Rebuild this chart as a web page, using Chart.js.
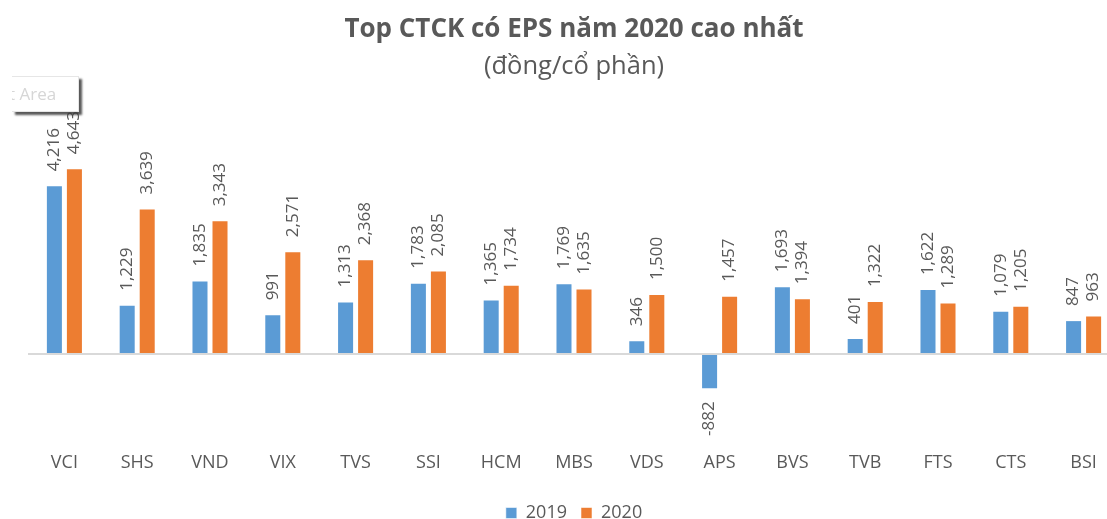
<!DOCTYPE html>
<html>
<head>
<meta charset="utf-8">
<script src="https://cdn.jsdelivr.net/npm/chart.js@4"></script>
<style>
  html, body { margin: 0; padding: 0; background: #fff; overflow: hidden; width: 1107px; height: 519px; }
  #wrap { position: absolute; left: 0; top: 0; width: 1148px; height: 519px; }
  #tip { position: absolute; left: 12px; top: 76px; width: 66px; height: 34px; background: #fff;
         border: 1px solid #e6e6e6; border-left: none; box-shadow: 3px 3px 2px rgba(60,60,60,0.85);
         font-family: "Open Sans", sans-serif; font-size: 17px; color: #d6d6d6; line-height: 34px;
         white-space: nowrap; overflow: hidden; text-indent: -3px; }
</style>
</head>
<body>
<div id="wrap"><canvas id="c"></canvas></div>
<div id="tip">t Area</div>
<script>
const categories = ["VCI","SHS","VND","VIX","TVS","SSI","HCM","MBS","VDS","APS","BVS","TVB","FTS","CTS","BSI"];
const eps2019 = [4216, 1229, 1835, 991, 1313, 1783, 1365, 1769, 346, -882, 1693, 401, 1622, 1079, 847];
const eps2020 = [4643, 3639, 3343, 2571, 2368, 2085, 1734, 1635, 1500, 1457, 1394, 1322, 1289, 1205, 963];
const seriesNames = ["2019", "2020"];

const FONT = '"Open Sans", sans-serif';
const GREY = '#595959';

const valueLabels = {
  id: 'valueLabels',
  afterDatasetsDraw(chart) {
    const ctx = chart.ctx;
    ctx.save();
    ctx.font = '17px ' + FONT;
    ctx.fillStyle = GREY;
    ctx.textBaseline = 'middle';
    chart.data.datasets.forEach((ds, di) => {
      const meta = chart.getDatasetMeta(di);
      meta.data.forEach((bar, i) => {
        const v = ds.data[i];
        const txt = v.toLocaleString('en-US');
        ctx.save();
        ctx.translate(bar.x, bar.y);
        ctx.rotate(-Math.PI / 2);
        if (v >= 0) { ctx.textAlign = 'left'; ctx.fillText(txt, 14, 0); }
        else { ctx.textAlign = 'right'; ctx.fillText(txt, -12, 0); }
        ctx.restore();
      });
    });
    ctx.restore();
  }
};

new Chart(document.getElementById('c'), {
  type: 'bar',
  data: {
    labels: categories,
    datasets: [
      { label: seriesNames[0], data: eps2019, backgroundColor: '#5B9BD5', borderColor: 'rgba(255,255,255,0.55)', borderWidth: 1,
        categoryPercentage: 0.55, barPercentage: 0.85 },
      { label: seriesNames[1], data: eps2020, backgroundColor: '#ED7D31', borderColor: 'rgba(255,255,255,0.55)', borderWidth: 1,
        categoryPercentage: 0.55, barPercentage: 0.85 }
    ]
  },
  options: {
    responsive: true,
    maintainAspectRatio: false,
    animation: false,
    layout: { padding: { left: 28, right: 28, top: 0, bottom: -13 } },
    plugins: {
      title: { display: true, text: 'Top CTCK có EPS năm 2020 cao nhất', color: GREY,
               font: { family: FONT, size: 26, weight: 'bold', lineHeight: 1.2 }, padding: { top: 14.4, bottom: 0 } },
      subtitle: { display: true, text: '(đồng/cổ phần)', color: GREY,
               font: { family: FONT, size: 25.5, weight: 'normal', lineHeight: 1.2 }, padding: { top: 6.1, bottom: 71.7 } },
      legend: { position: 'bottom',
               labels: { boxWidth: 11, boxHeight: 11, padding: 14, color: GREY, font: { family: FONT, size: 18 } } },
      tooltip: { enabled: false }
    },
    scales: {
      x: {
        grid: { display: false, drawTicks: false },
        border: { display: false },
        ticks: { color: GREY, font: { family: FONT, size: 18, lineHeight: 1.2 }, padding: 18, maxRotation: 0, autoSkip: false },
        afterFit(scale) { scale.height = 56; }
      },
      y: {
        min: -2000, max: 5000,
        ticks: { display: false, stepSize: 1000 },
        border: { display: false },
        grid: { drawTicks: false, lineWidth: 2,
                color: (c) => (c.tick && c.tick.value === 0) ? '#D9D9D9' : 'rgba(0,0,0,0)' }
      }
    }
  },
  plugins: [valueLabels]
});
</script>
</body>
</html>
